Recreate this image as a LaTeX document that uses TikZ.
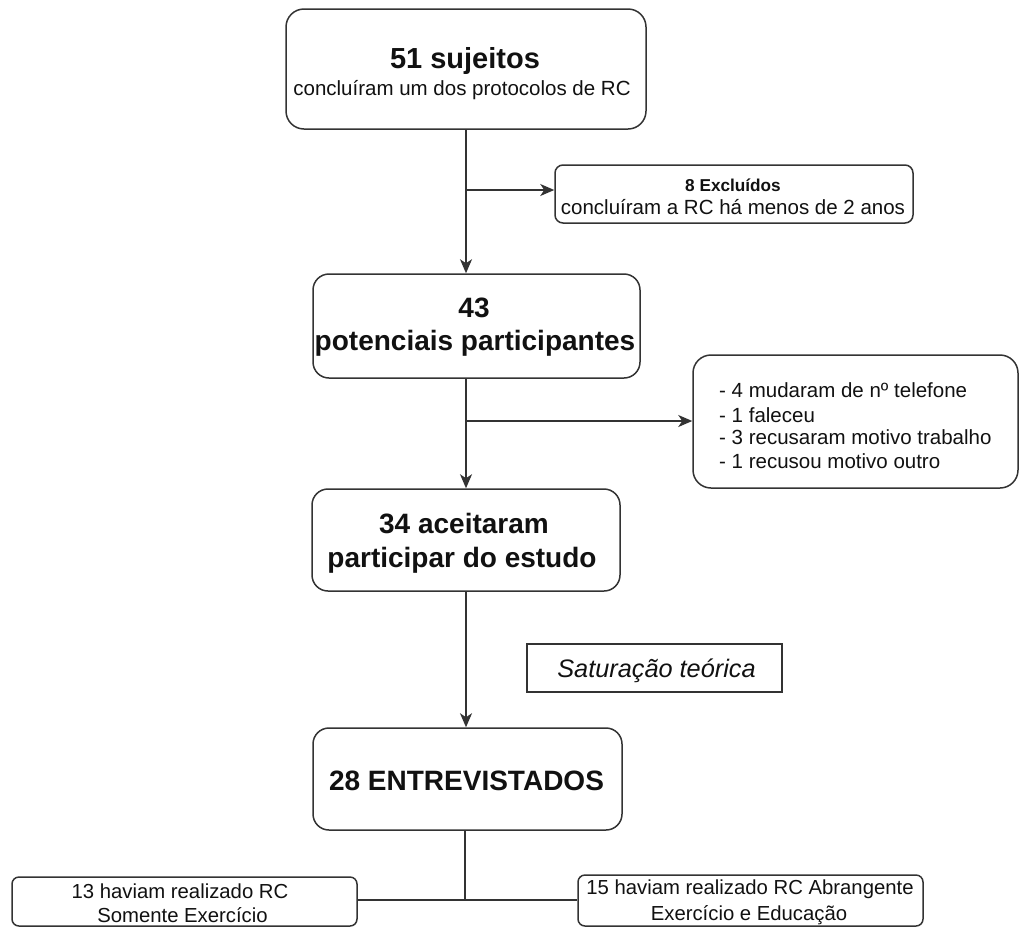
\documentclass[tikz,border=0pt]{standalone}
\usepackage{fontspec}
\setmainfont{Liberation Sans}
\usetikzlibrary{arrows.meta}
\definecolor{linec}{HTML}{333333}
\definecolor{txtc}{HTML}{111111}
\begin{document}
\begin{tikzpicture}[x=1pt,y=-1pt,
  box/.style={draw=linec, line width=1.5pt, rounded corners=#1, fill=white, inner sep=0pt},
  box/.default=15pt,
  plainbox/.style={draw=linec, line width=1.5pt, fill=white, inner sep=0pt},
  txt/.style={anchor=base, inner sep=0pt, text=txtc},
  ltxt/.style={anchor=base west, inner sep=0pt, text=txtc},
  fbig/.style={font=\fontsize{29}{29}\selectfont\bfseries},
  fbold/.style={font=\fontsize{28}{28}\selectfont\bfseries},
  fsmb/.style={font=\fontsize{17.2}{17.2}\selectfont\bfseries},
  freg/.style={font=\fontsize{20.5}{20.5}\selectfont},
  fbot/.style={font=\fontsize{20.3}{20.3}\selectfont},
  fit/.style={font=\fontsize{25.3}{25.3}\selectfont\itshape},
  conn/.style={draw=linec, line width=1.5pt},
  arr/.style={draw=linec, line width=1.5pt, -{Stealth[length=14pt,width=12pt,inset=4pt]}}
]
\useasboundingbox (0,0) rectangle (1019,927);

% coordinates for junctions
\coordinate (j1) at (466,190);
\coordinate (j2) at (466,421);
\coordinate (j3) at (465,900);

% boxes
\node[box=18pt, minimum width=360pt, minimum height=120pt] (b1) at (466,69) {};
\node[box=8pt, minimum width=358pt, minimum height=58pt] (excl) at (734,194) {};
\node[box=16pt, minimum width=327pt, minimum height=104pt] (b2) at (476.5,326) {};
\node[box=18pt, minimum width=325pt, minimum height=133pt] (lst) at (855.5,421.5) {};
\node[box=16pt, minimum width=308pt, minimum height=102pt] (b3) at (466,540) {};
\node[plainbox, minimum width=255pt, minimum height=48pt] (sat) at (654.5,668) {};
\node[box=16pt, minimum width=309pt, minimum height=102pt] (b5) at (467.5,779) {};
\node[box=7pt, minimum width=345pt, minimum height=49pt] (bl) at (184.5,901.5) {};
\node[box=7pt, minimum width=345pt, minimum height=51pt] (br) at (750.5,900.5) {};

% connectors
\draw[arr] (b1.south -| j1) -- (b2.north -| j1);
\draw[arr] (j1) -- (j1 -| excl.west);
\draw[arr] (b2.south -| j2) -- (b3.north -| j2);
\draw[arr] (j2) -- (j2 -| lst.west);
\draw[arr] (b3.south -| j2) -- (b5.north -| j2);
\draw[conn] (b5.south -| j3) -- (j3);
\draw[conn] (bl.east |- j3) -- (br.west |- j3);

% texts
\node[txt, fbig] (t1a) at (465,68) {51 sujeitos};
\node[txt, freg] (t1b) at (462,95) {concluíram um dos protocolos de RC};

\node[txt, fsmb] (tea) at (733,191) {8 Excluídos};
\node[txt, freg] (teb) at (733,214) {concluíram a RC há menos de 2 anos};

\node[txt, fbold] (t2a) at (474,317) {43};
\node[txt, fbold] (t2b) at (475,350) {potenciais participantes};

\node[ltxt, freg] (tl1) at (719,397) {- 4 mudaram de nº telefone};
\node[ltxt, freg] (tl2) at (719,422) {- 1 faleceu};
\node[ltxt, freg] (tl3) at (719,444) {- 3 recusaram motivo trabalho};
\node[ltxt, freg] (tl4) at (719,468) {- 1 recusou motivo outro};

\node[txt, fbold] (t3a) at (464,533) {34 aceitaram};
\node[txt, fbold] (t3b) at (462,567) {participar do estudo};

\node[txt, fit] (tsat) at (656.5,677) {Saturação teórica};

\node[txt, fbold] (t5) at (466.5,790) {28 ENTREVISTADOS};

\node[txt, fbot] (tla) at (180,898) {13 haviam realizado RC};
\node[txt, fbot] (tlb) at (182.5,922) {Somente Exercício};
\node[txt, fbot] (tra) at (750,894) {15 haviam realizado RC Abrangente};
\node[txt, fbot] (trb) at (749,920) {Exercício e Educação};
\end{tikzpicture}
\end{document}
